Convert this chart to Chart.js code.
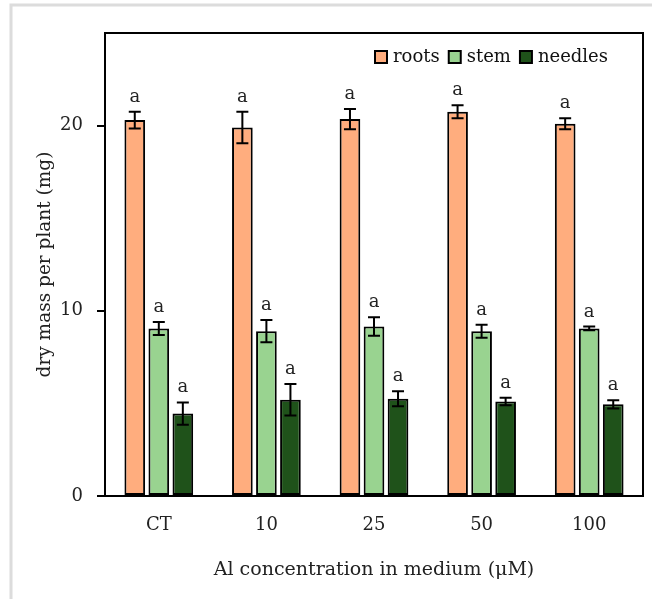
<!DOCTYPE html>
<html>
<head>
<meta charset="utf-8">
<script src="https://cdn.jsdelivr.net/npm/chart.js@4"></script>
<style>
  html, body { margin: 0; padding: 0; background: #fff; }
  #wrap { position: relative; width: 652px; height: 599px; }
</style>
</head>
<body>
<div id="wrap"><canvas id="myChart" width="652" height="599"></canvas></div>
<script>
const categories = ['CT', '10', '25', '50', '100'];
const roots = [20.3, 19.9, 20.35, 20.75, 20.1];
const rootsErr = [0.45, 0.85, 0.55, 0.35, 0.3];
const stem = [9.05, 8.9, 9.15, 8.9, 9.05];
const stemErr = [0.35, 0.6, 0.5, 0.35, 0.1];
const needles = [4.45, 5.2, 5.25, 5.1, 4.95];
const needlesErr = [0.6, 0.85, 0.4, 0.2, 0.22];
const rootsLetters = ['a', 'a', 'a', 'a', 'a'];
const stemLetters = ['a', 'a', 'a', 'a', 'a'];
const needlesLetters = ['a', 'a', 'a', 'a', 'a'];
const yTicks = [0, 10, 20];

const serif = 'DejaVu Serif';

// error bars, letters, legend, box and frame
const extras = {
  id: 'extras',
  afterDatasetsDraw(chart) {
    const ctx = chart.ctx;
    const y = chart.scales.y;
    const errs = [rootsErr, stemErr, needlesErr];
    const letters = [rootsLetters, stemLetters, needlesLetters];
    ctx.save();
    chart.data.datasets.forEach((ds, di) => {
      const meta = chart.getDatasetMeta(di);
      meta.data.forEach((bar, i) => {
        const v = ds.data[i];
        const e = errs[di][i];
        const top = y.getPixelForValue(v + e);
        const bot = y.getPixelForValue(v - e);
        ctx.strokeStyle = '#000';
        ctx.lineWidth = 2;
        ctx.beginPath();
        ctx.moveTo(bar.x, top);
        ctx.lineTo(bar.x, bot);
        ctx.moveTo(bar.x - 6, top);
        ctx.lineTo(bar.x + 6, top);
        ctx.moveTo(bar.x - 6, bot);
        ctx.lineTo(bar.x + 6, bot);
        ctx.stroke();
        ctx.fillStyle = '#222';
        ctx.font = '18px "' + serif + '"';
        ctx.textAlign = 'center';
        ctx.textBaseline = 'alphabetic';
        ctx.fillText(letters[di][i], bar.x, top - 10);
      });
    });

    // legend inside the plot, top right
    const a = chart.chartArea;
    ctx.font = '18px "' + serif + '"';
    ctx.textBaseline = 'middle';
    ctx.textAlign = 'left';
    const ly = 57;
    let lx = 375;
    chart.data.datasets.forEach(ds => {
      ctx.fillStyle = ds.backgroundColor;
      ctx.fillRect(lx, ly - 6, 12, 12);
      ctx.strokeStyle = '#000';
      ctx.lineWidth = 2;
      ctx.strokeRect(lx, ly - 6, 12, 12);
      ctx.fillStyle = '#111';
      ctx.fillText(ds.label, lx + 18, ly);
      lx += 18 + ctx.measureText(ds.label).width + 9;
    });

    ctx.strokeStyle = '#000';
    ctx.lineWidth = 2;
    ctx.strokeRect(a.left, a.top, a.right - a.left, a.bottom - a.top);
    ctx.strokeStyle = '#dcdcdc';
    ctx.lineWidth = 3;
    ctx.beginPath();
    ctx.moveTo(11, 599);
    ctx.lineTo(11, 5);
    ctx.lineTo(652, 5);
    ctx.stroke();
    ctx.restore();
  }
};

const barStyle = { borderColor: '#000', borderWidth: 2, borderSkipped: false, barPercentage: 0.86, categoryPercentage: 0.67 };

new Chart('myChart', {
  type: 'bar',
  data: {
    labels: categories,
    datasets: [
      Object.assign({ label: 'roots', data: roots, backgroundColor: '#ffad7e' }, barStyle),
      Object.assign({ label: 'stem', data: stem, backgroundColor: '#99d390' }, barStyle),
      Object.assign({ label: 'needles', data: needles, backgroundColor: '#1f521a' }, barStyle)
    ]
  },
  options: {
    responsive: false,
    animation: false,
    layout: { padding: { left: 14, top: 33, right: 9, bottom: 14 } },
    plugins: {
      tooltip: { enabled: false },
      legend: { display: false }
    },
    scales: {
      x: {
        grid: { display: false },
        border: { color: '#000', width: 2 },
        ticks: { color: '#222', font: { family: serif, size: 18 }, padding: 11 },
        title: { display: true, text: 'Al concentration in medium (μM)', color: '#222', font: { family: serif, size: 19 }, padding: { top: 8 } },
        afterFit(s) { s.height = 599 - 496 - 14; }
      },
      y: {
        min: 0,
        max: 25,
        afterBuildTicks(s) { s.ticks = yTicks.map(v => ({ value: v })); },
        grid: { drawOnChartArea: false, drawTicks: true, tickLength: 8, color: '#000', lineWidth: 2 },
        border: { color: '#000', width: 2 },
        ticks: { color: '#222', font: { family: serif, size: 18 }, padding: 14 },
        title: { display: true, text: 'dry mass per plant (mg)', color: '#222', font: { family: serif, size: 18.5 }, padding: { top: 20, bottom: 0 } },
        afterFit(s) { s.width = 105 - 14; }
      }
    }
  },
  plugins: [extras]
});
</script>
</body>
</html>
